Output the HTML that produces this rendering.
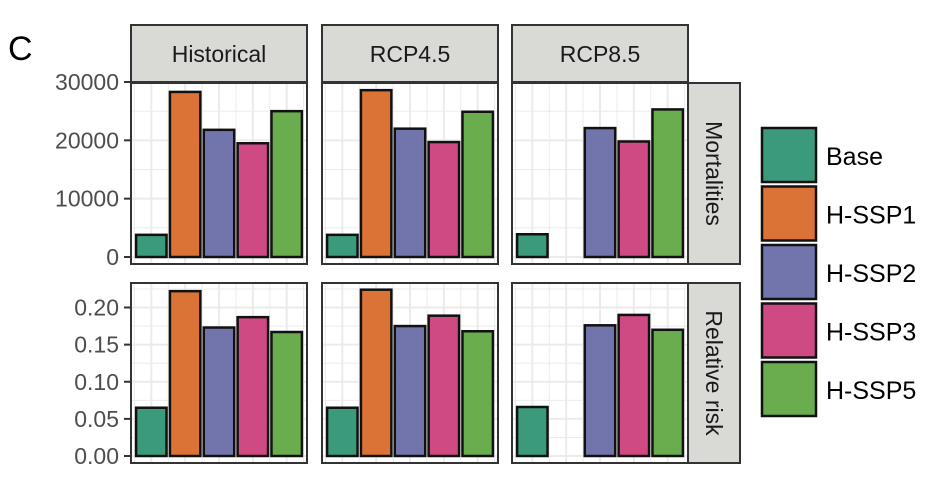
<!DOCTYPE html>
<html><head><meta charset="utf-8"><style>
body{margin:0;background:#fff;}
svg text{font-family:"Liberation Sans",sans-serif;}
</style></head><body>
<svg id="chart" width="945" height="483" viewBox="0 0 945 483" xmlns="http://www.w3.org/2000/svg">
<text x="8" y="60" font-size="34" fill="#000">C</text>
</svg>
<script>
const categories = ["Base","H-SSP1","H-SSP2","H-SSP3","H-SSP5"];
const scenarios = ["Historical","RCP4.5","RCP8.5"];
const metrics = ["Mortalities","Relative risk"];
const mortHist = [3800, 28300, 21800, 19500, 25000];
const mortRcp45 = [3800, 28600, 22000, 19700, 24900];
const mortRcp85 = [3900, null, 22100, 19800, 25300];
const rrHist = [0.065, 0.222, 0.173, 0.187, 0.167];
const rrRcp45 = [0.065, 0.224, 0.175, 0.189, 0.168];
const rrRcp85 = [0.066, null, 0.176, 0.190, 0.170];
const mortTicks = [0, 10000, 20000, 30000];
const mortTickLabels = ["0","10000","20000","30000"];
const rrTicks = [0, 0.05, 0.10, 0.15, 0.20];
const rrTickLabels = ["0.00","0.05","0.10","0.15","0.20"];
const colors = ["#3a9a7b","#db7336","#7275ab","#cf4a82","#6aad4e"];

const NS="http://www.w3.org/2000/svg";
const svg=document.getElementById('chart');
function mk(tag,attrs,parent){const e=document.createElementNS(NS,tag);for(const k in attrs)e.setAttribute(k,attrs[k]);(parent||svg).appendChild(e);return e;}

const colX=[131,322,512], colW=176;
const rows=[{top:83,bottom:264,y0:257,y1:82,v1:30000,ticks:mortTicks,labels:mortTickLabels,minor:5000,max:31000,data:[mortHist,mortRcp45,mortRcp85]},
            {top:283,bottom:463,y0:456,y1:307.5,v1:0.20,ticks:rrTicks,labels:rrTickLabels,minor:0.025,max:0.235,data:[rrHist,rrRcp45,rrRcp85]}];
function yScale(r,v){return r.y0-(v/r.v1)*(r.y0-r.y1);}
function xScale(c,i){const unit=colW/5.2;return colX[c]+unit*(0.6+i);}

scenarios.forEach((s,c)=>{
  const g=mk('g',{});
  
  
  mk('rect',{x:colX[c],y:25,width:colW,height:57,fill:'#d9d9d6',stroke:'#333','stroke-width':2},g);
  const t=mk('text',{x:colX[c]+colW/2,y:62,'font-size':23,'text-anchor':'middle',fill:'#1a1a1a'},g);t.textContent=s;
});
rows.forEach((r,ri)=>{
  const g=mk('g',{});
  
  
  mk('rect',{x:688,y:r.top,width:52,height:r.bottom-r.top,fill:'#d9d9d6',stroke:'#333','stroke-width':2},g);
  const cy=(r.top+r.bottom)/2;
  const t=mk('text',{x:714,y:cy,'font-size':23,'text-anchor':'middle',fill:'#1a1a1a',transform:`rotate(90 714 ${cy})`,dy:8},g);t.textContent=metrics[ri];
  r.ticks.forEach((v,k)=>{
    const y=yScale(r,v);
    const tl=mk('line',{x1:124,x2:131,y1:y,y2:y,stroke:'#333','stroke-width':2});
    
    
    const tx=mk('text',{x:119,y:y+8,'font-size':23,'text-anchor':'end',fill:'#4d4d4d'});
    
    
    tx.textContent=r.labels[k];
  });
  scenarios.forEach((s,c)=>{
    const pg=mk('g',{});
    
    
    mk('rect',{x:colX[c],y:r.top,width:colW,height:r.bottom-r.top,fill:'#fff'},pg);
    for(let v=0;v<=r.max;v+=r.minor){const y=yScale(r,v);if(y<r.top)break;
      mk('line',{x1:colX[c],x2:colX[c]+colW,y1:y,y2:y,stroke:'#ebebeb','stroke-width':Math.abs(v/(r.minor*2)-Math.round(v/(r.minor*2)))<1e-6?2:1},pg);}
    for(let i=-0.5;i<5;i+=0.5){const x=xScale(c,i);
      mk('line',{x1:x,x2:x,y1:r.top,y2:r.bottom,stroke:'#ebebeb','stroke-width':Number.isInteger(i)?2:1},pg);}
    r.data[c].forEach((v,i)=>{
      if(v==null)return;
      const unit=colW/5.2, x=xScale(c,i)-unit*0.45, y=yScale(r,v);
      const b=mk('rect',{x:x,y:y,width:unit*0.9,height:r.y0-y,fill:colors[i],stroke:'#111','stroke-width':2.5},pg);
      
      
    });
    mk('rect',{x:colX[c],y:r.top,width:colW,height:r.bottom-r.top,fill:'none',stroke:'#333','stroke-width':2},pg);
  });
});
categories.forEach((cat,i)=>{
  const g=mk('g',{});
  
  
  const y=128+i*58.5;
  mk('rect',{x:762,y:y,width:54,height:54,fill:colors[i],stroke:'#111','stroke-width':2.5},g);
  const t=mk('text',{x:826,y:y+37,'font-size':25,fill:'#000'},g);t.textContent=cat;
});
</script>
</body></html>
